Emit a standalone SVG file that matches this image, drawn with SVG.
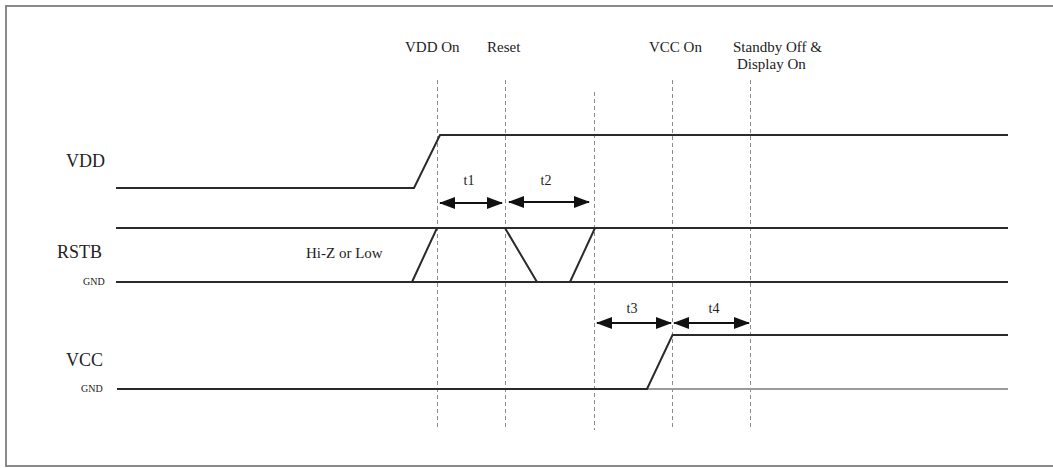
<svg xmlns="http://www.w3.org/2000/svg" width="1053" height="468" viewBox="0 0 1053 468">
<style>
.frame{fill:none;stroke:#8a8a8a;stroke-width:2}
.wave{fill:none;stroke:#2a2a2a;stroke-width:2;stroke-linejoin:miter}
.dash{stroke:#8c8c8c;stroke-width:1;stroke-dasharray:4,3}
.arr{stroke:#111;stroke-width:2;marker-start:url(#ah);marker-end:url(#ah)}
text{font-family:"Liberation Serif","Times New Roman",serif;fill:#222}
.sig{font-size:18px}
.gnd{font-size:10px}
.ev{font-size:15px}
.t{font-size:14px;text-anchor:middle}
</style>
<defs>
<marker id="ah" viewBox="0 0 16 12" refX="15" refY="6" markerWidth="16" markerHeight="12" markerUnits="userSpaceOnUse" orient="auto-start-reverse">
<path d="M0,0 L16,6 L0,12 Z" fill="#111"/>
</marker>
</defs>
<rect width="1053" height="468" fill="#fff"/>
<path class="frame" d="M1053,6 H6 V466 H1053"/>
<g id="guides">
<line class="dash" x1="437.5" y1="80" x2="437.5" y2="430"/>
<line class="dash" x1="505.5" y1="80" x2="505.5" y2="430"/>
<line class="dash" x1="594.5" y1="92" x2="594.5" y2="430"/>
<line class="dash" x1="672.5" y1="80" x2="672.5" y2="430"/>
<line class="dash" x1="750.5" y1="80" x2="750.5" y2="430"/>
</g>
<g id="events">
<text class="ev" x="405" y="52">VDD On</text>
<text class="ev" x="487" y="52">Reset</text>
<text class="ev" x="649" y="52">VCC On</text>
<text class="ev" x="733" y="52">Standby Off &amp;</text>
<text class="ev" x="737" y="69">Display On</text>
</g>
<g id="vdd">
<text class="sig" x="66" y="167">VDD</text>
<path class="wave" d="M116,188 H414 L440,135 H1008"/>
</g>
<g id="rstb">
<text class="sig" x="57" y="258">RSTB</text>
<text class="gnd" x="83" y="285">GND</text>
<text class="ev" x="306" y="258">Hi-Z or Low</text>
<path class="wave" d="M116,228 H1008"/>
<path class="wave" d="M116,282 H1008"/>
<path class="wave" d="M412,282 L437,228 H505 L537,282 H570 L595,228"/>
</g>
<g id="vcc">
<text class="sig" x="66" y="366">VCC</text>
<text class="gnd" x="81" y="392">GND</text>
<path d="M647,389 H1008" stroke="#9a9a9a" stroke-width="2" fill="none"/>
<path class="wave" d="M117,389 H647 L672.5,335 H1008"/>
</g>
<g id="connectors">
<line class="arr" x1="440" y1="203" x2="502" y2="203"/>
<line class="arr" x1="509" y1="202" x2="589" y2="202"/>
<line class="arr" x1="597" y1="323" x2="671" y2="323"/>
<line class="arr" x1="674" y1="323" x2="749" y2="323"/>
<text class="t" x="469" y="185">t1</text>
<text class="t" x="546" y="185">t2</text>
<text class="t" x="632" y="313">t3</text>
<text class="t" x="714" y="313">t4</text>
</g>
</svg>
